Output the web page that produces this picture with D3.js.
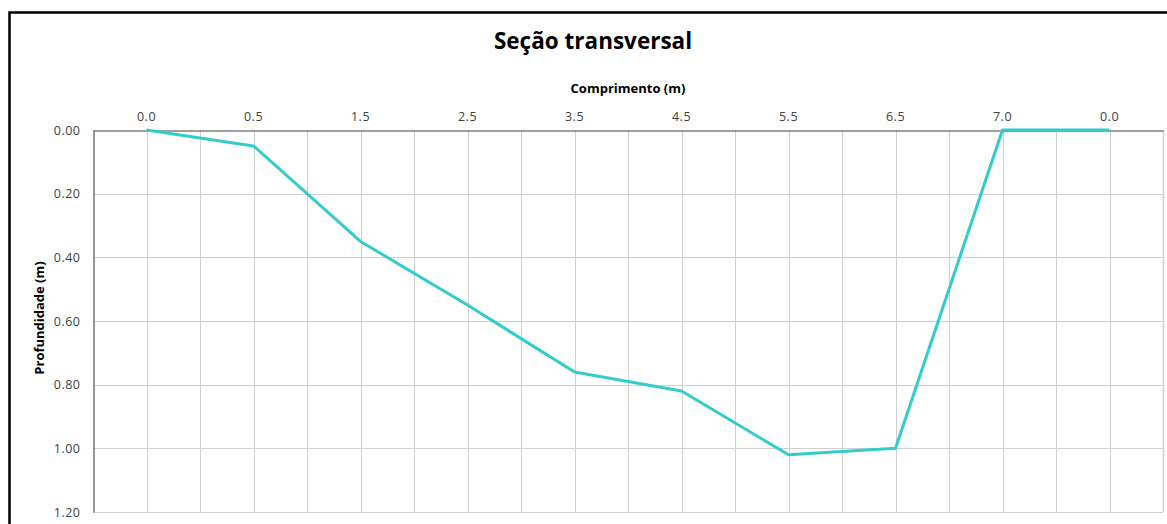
<!DOCTYPE html>
<html>
<head>
<meta charset="utf-8">
<script src="https://cdn.jsdelivr.net/npm/d3@7"></script>
<style>
  body { margin: 0; background: #fff; }
  svg { display: block; font-family: "Open Sans", "Noto Sans", sans-serif; }
</style>
</head>
<body>
<div class="chart"></div>
<script>
var xLabels = ["0.0", "0.5", "1.5", "2.5", "3.5", "4.5", "5.5", "6.5", "7.0", "0.0"];
var depths = [0, 0.05, 0.35, 0.55, 0.76, 0.82, 1.02, 1.00, 0, 0];
var yTicks = [0, 0.2, 0.4, 0.6, 0.8, 1.0, 1.2];

document.addEventListener("DOMContentLoaded", draw)

function draw() {
  var width = 1167,
    height = 524,
    left = 93, right = 1163, top = 130, bottom = 512;

  var svg = d3.select(".chart").append("svg")
    .attr("width", width)
    .attr("height", height)

  // outer frame of the chart object (cut off on right and bottom)
  svg.append("rect")
    .attr("x", 9.5).attr("y", 12.5)
    .attr("width", 1200).attr("height", 600)
    .attr("fill", "none")
    .attr("stroke", "#000")
    .attr("stroke-width", 2.5)

  var data = depths.map((d, i) => ({ index: i, label: xLabels[i], depth: d }))

  var x = d3.scaleBand()
    .domain(d3.range(xLabels.length))
    .range([left, right])
    .padding(0)
  var y = d3.scaleLinear()
    .domain([0, 1.2])
    .range([top, bottom])

  var half = x.bandwidth() / 2
  var gridX = []
  d3.range(xLabels.length).forEach(i => {
    if (i > 0) gridX.push(x(i))
    gridX.push(x(i) + half)
  })
  gridX.push(right)

  var grid = svg.append("g").attr("class", "grid")
  grid.selectAll("line.v")
    .data(gridX)
    .enter().append("line")
    .attr("class", "v")
    .attr("x1", d => Math.round(d) + 0.5).attr("x2", d => Math.round(d) + 0.5)
    .attr("y1", top).attr("y2", bottom)
    .attr("stroke", "#d0d0d0")
    .attr("stroke-width", d => d === right ? 1.5 : 1)
  grid.selectAll("line.h")
    .data(yTicks.slice(1))
    .enter().append("line")
    .attr("class", "h")
    .attr("x1", left).attr("x2", right)
    .attr("y1", d => Math.round(y(d)) + 0.5).attr("y2", d => Math.round(y(d)) + 0.5)
    .attr("stroke", "#d0d0d0")

  // axes
  var xAxis = d3.axisTop(x)
    .tickSize(0)
    .tickPadding(10)
    .tickFormat(i => xLabels[i])
  var gx = svg.append("g")
    .attr("transform", `translate(0,${top + 0.5})`)
    .call(xAxis)
  gx.select(".domain").attr("stroke", "#404040").attr("stroke-width", 1.2)
  gx.selectAll("text")
    .attr("fill", "#404040")
    .attr("font-family", "'Open Sans', sans-serif")
    .attr("font-size", 12.5)
    .attr("letter-spacing", 0.5)

  var yAxis = d3.axisLeft(y)
    .tickValues(yTicks)
    .tickSize(0)
    .tickPadding(13)
    .tickFormat(d3.format(".2f"))
  var gy = svg.append("g")
    .attr("transform", `translate(${left + 0.5},0)`)
    .call(yAxis)
  gy.select(".domain").attr("stroke", "#767676").attr("stroke-width", 1.5)
  gy.selectAll("text")
    .attr("fill", "#404040")
    .attr("font-family", "'Open Sans', sans-serif")
    .attr("font-size", 12.5)
    .attr("letter-spacing", 0.5)

  // series
  var line = d3.line()
    .x(d => x(d.index) + half)
    .y(d => y(d.depth))
  svg.append("path")
    .datum(data)
    .attr("d", line)
    .attr("fill", "none")
    .attr("stroke", "#33CCCC")
    .attr("stroke-width", 3)
    .attr("stroke-linejoin", "round")

  // titles
  svg.append("text")
    .attr("x", 593).attr("y", 49)
    .attr("text-anchor", "middle")
    .attr("font-size", 22.5)
    .attr("font-weight", "bold")
    .attr("fill", "#000")
    .text("Seção transversal")
  svg.append("text")
    .attr("x", 628).attr("y", 93)
    .attr("text-anchor", "middle")
    .attr("font-size", 13)
    .attr("font-weight", "bold")
    .attr("fill", "#000")
    .text("Comprimento (m)")
  svg.append("text")
    .attr("transform", `translate(44,${(top + bottom) / 2 - 3}) rotate(-90)`)
    .attr("text-anchor", "middle")
    .attr("font-size", 13)
    .attr("font-weight", "bold")
    .attr("fill", "#000")
    .text("Profundidade (m)")
}
</script>
</body>
</html>
